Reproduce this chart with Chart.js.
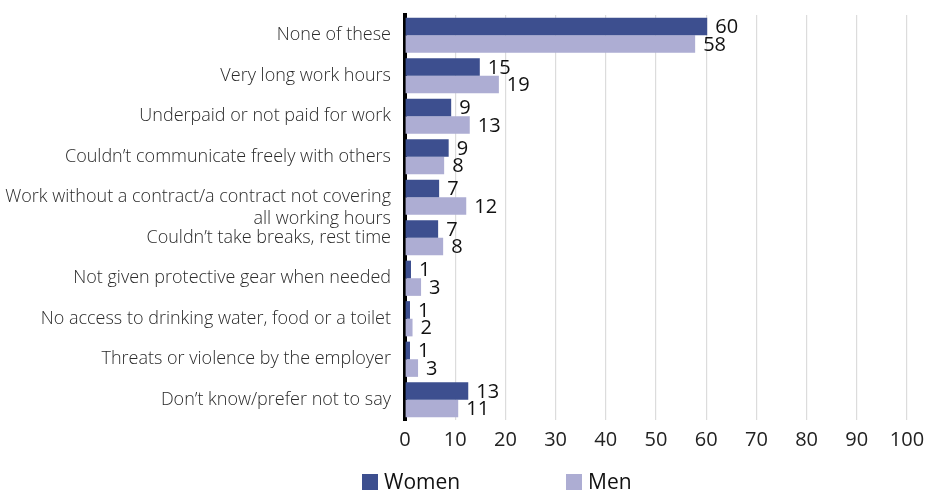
<!DOCTYPE html>
<html>
<head>
<meta charset="utf-8">
<script src="https://cdn.jsdelivr.net/npm/chart.js@4.4.1/dist/chart.umd.min.js"></script>
<style>
  html, body { margin: 0; padding: 0; background: #fff; }
  #wrap { width: 925px; height: 490px; }
</style>
</head>
<body>
<div id="wrap"><canvas id="issuesChart"></canvas></div>
<script>
// Categories (top to bottom)
const categories = [
    'None of these',
    'Very long work hours',
    'Underpaid or not paid for work',
    'Couldn\u2019t communicate freely with others',
    ['', 'Work without a contract/a contract not covering', 'all working hours'],
    'Couldn\u2019t take breaks, rest time',
    'Not given protective gear when needed',
    'No access to drinking water, food or a toilet',
    'Threats or violence by the employer',
    'Don\u2019t know/prefer not to say'
];

// Series values (%)
const women = [60.2, 14.9, 9.2, 8.7, 6.8, 6.6, 1.2, 1.0, 1.0, 12.6];
const men = [57.8, 18.7, 12.9, 7.8, 12.2, 7.6, 3.2, 1.5, 2.6, 10.6];

// X axis ticks
const xTicks = [0, 10, 20, 30, 40, 50, 60, 70, 80, 90, 100];

const FONT = "'Open Sans', 'DejaVu Sans', sans-serif";

// value labels at the end of each bar
const barLabels = {
    id: 'barLabels',
    afterDatasetsDraw(chart) {
        const ctx = chart.ctx;
        ctx.save();
        ctx.font = `400 20px ${FONT}`;
        ctx.fillStyle = '#111';
        ctx.textAlign = 'left';
        ctx.textBaseline = 'middle';
        chart.data.datasets.forEach((ds, i) => {
            const meta = chart.getDatasetMeta(i);
            meta.data.forEach((bar, j) => {
                ctx.fillText(String(Math.round(ds.data[j])), bar.x + 8, bar.y + 1);
            });
        });
        ctx.restore();
    }
};

// legend under the axis, spaced like the original
const bottomLegend = {
    id: 'bottomLegend',
    afterDraw(chart) {
        const ctx = chart.ctx;
        ctx.save();
        ctx.font = `400 21px ${FONT}`;
        ctx.textBaseline = 'alphabetic';
        ctx.textAlign = 'left';
        let x = 362;
        const y = 474;
        chart.data.datasets.forEach((ds) => {
            ctx.fillStyle = ds.backgroundColor;
            ctx.fillRect(x, y, 16, 16);
            ctx.fillStyle = '#111';
            ctx.fillText(ds.label, x + 22, y + 15);
            x += 204;
        });
        ctx.restore();
    }
};

const ctx = document.getElementById('issuesChart').getContext('2d');

new Chart(ctx, {
    type: 'bar',
    data: {
        labels: categories,
        datasets: [
            {
                label: 'Women',
                data: women,
                backgroundColor: '#3d4f8f',
                categoryPercentage: 0.87,
                barPercentage: 1.0
            },
            {
                label: 'Men',
                data: men,
                backgroundColor: '#adadd3',
                categoryPercentage: 0.87,
                barPercentage: 1.0
            }
        ]
    },
    options: {
        indexAxis: 'y',
        responsive: true,
        maintainAspectRatio: false,
        animation: false,
        layout: {
            padding: { top: 15, right: 18, bottom: 30, left: 0 }
        },
        plugins: {
            legend: { display: false },
            tooltip: { enabled: false }
        },
        scales: {
            x: {
                min: 0,
                max: 100,
                afterBuildTicks: (scale) => {
                    scale.ticks = xTicks.map(v => ({ value: v }));
                },
                afterFit: (scale) => {
                    scale.paddingLeft = 0;
                    scale.paddingRight = 0;
                },
                grid: { color: '#dcdcdc', lineWidth: 1.2, drawTicks: false },
                border: { display: false },
                ticks: {
                    padding: 8,
                    color: '#222',
                    font: { family: FONT, size: 20, weight: 400 }
                }
            },
            y: {
                afterFit: (scale) => {
                    scale.width = 405;
                    scale.paddingTop = 0;
                    scale.paddingBottom = 0;
                },
                grid: { display: false, drawTicks: false },
                border: { display: true, color: '#000', width: 4 },
                ticks: {
                    padding: 14,
                    color: '#2a2a2a',
                    autoSkip: false,
                    font: { family: FONT, size: 18, weight: 300, lineHeight: 1.22 }
                }
            }
        }
    },
    plugins: [barLabels, bottomLegend]
});
</script>
</body>
</html>
